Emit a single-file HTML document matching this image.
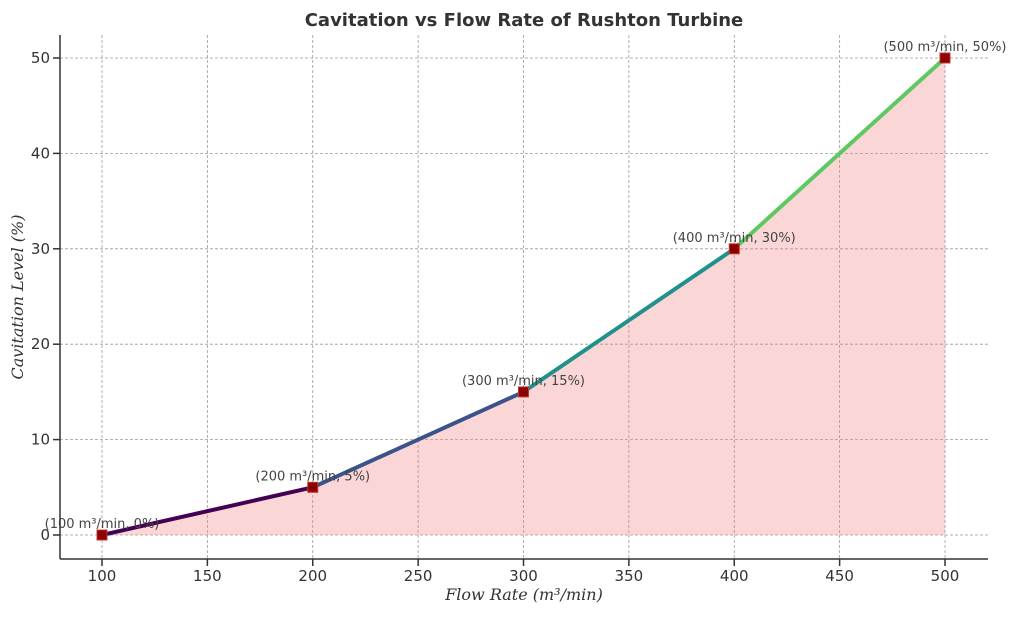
<!DOCTYPE html>
<html><head><meta charset="utf-8"><style>
body{margin:0;background:#fff;width:1024px;height:614px;overflow:hidden}
svg text{font-family:"DejaVu Sans","Liberation Sans",sans-serif}
</style></head><body>
<svg id="chart" width="1024" height="614" xmlns="http://www.w3.org/2000/svg">
<text x="524" y="26" text-anchor="middle" font-size="18" font-weight="bold" fill="#333">Cavitation vs Flow Rate of Rushton Turbine</text>
<g id="grid"></g>
<g id="plot"></g>
<g id="axes"></g>
<text x="524" y="600" text-anchor="middle" font-size="16" font-style="italic" fill="#333" style="font-family:'DejaVu Serif','Liberation Serif',serif">Flow Rate (m³/min)</text>
<text transform="translate(23,297) rotate(-90)" text-anchor="middle" font-size="16" font-style="italic" fill="#333" style="font-family:'DejaVu Serif','Liberation Serif',serif">Cavitation Level (%)</text>
</svg>
<script>
const flowRates=[100,200,300,400,500];
const cavitation=[0,5,15,30,50];
const xTicks=[100,150,200,250,300,350,400,450,500];
const yTicks=[0,10,20,30,40,50];
const segColors=['#440154','#3b528b','#21918c','#5ec962'];
const NS='http://www.w3.org/2000/svg';
const L=60,R=988,T=35,B=559;
const xs=v=>102+(v-100)*(945-102)/400;
const ys=v=>535-v*(535-58)/50;
function mk(tag,attrs,parent){const e=document.createElementNS(NS,tag);for(const k in attrs)e.setAttribute(k,attrs[k]);parent.appendChild(e);return e;}
const grid=document.getElementById('grid'),plot=document.getElementById('plot'),axes=document.getElementById('axes');
xTicks.forEach(t=>{
 const g=mk('line',{x1:xs(t),x2:xs(t),y1:T,y2:B,stroke:'#999','stroke-dasharray':'3,2','stroke-width':0.8},grid);
 
 
 const tk=mk('line',{x1:xs(t),x2:xs(t),y1:B,y2:B+7,stroke:'#333','stroke-width':1.5},axes);
 
 
 const lb=mk('text',{x:xs(t),y:B+22,'text-anchor':'middle','font-size':15,fill:'#333'},axes);
 
 
 lb.textContent=t;
});
yTicks.forEach(t=>{
 const g=mk('line',{x1:L,x2:R,y1:ys(t),y2:ys(t),stroke:'#999','stroke-dasharray':'3,2','stroke-width':0.8},grid);
 
 
 const tk=mk('line',{x1:L-7,x2:L,y1:ys(t),y2:ys(t),stroke:'#333','stroke-width':1.5},axes);
 
 
 const lb=mk('text',{x:L-10,y:ys(t)+5,'text-anchor':'end','font-size':15,fill:'#333'},axes);
 
 
 lb.textContent=t;
});
let pts=flowRates.map((f,i)=>xs(f)+','+ys(cavitation[i])).join(' ');
const area=mk('polygon',{points:pts+' '+xs(flowRates[flowRates.length-1])+','+ys(0)+' '+xs(flowRates[0])+','+ys(0),fill:'#f08080','fill-opacity':0.32},plot);


for(let i=0;i<flowRates.length-1;i++){
 const s=mk('line',{x1:xs(flowRates[i]),y1:ys(cavitation[i]),x2:xs(flowRates[i+1]),y2:ys(cavitation[i+1]),stroke:segColors[i%segColors.length],'stroke-width':4},plot);
 
 
}
flowRates.forEach((f,i)=>{
 const m=mk('rect',{x:xs(f)-5,y:ys(cavitation[i])-5,width:10,height:10,fill:'#8b0000',stroke:'#c0392b','stroke-width':1},plot);
 
 
 const lb=mk('text',{x:xs(f),y:ys(cavitation[i])-7,'text-anchor':'middle','font-size':13,fill:'#444'},plot);
 
 
 lb.textContent='('+f+' m³/min, '+cavitation[i]+'%)';
});
const ax1=mk('line',{x1:L,x2:L,y1:T,y2:B,stroke:'#333','stroke-width':1.5},axes);


const ax2=mk('line',{x1:L,x2:R,y1:B,y2:B,stroke:'#333','stroke-width':1.5},axes);


</script>
</body></html>
